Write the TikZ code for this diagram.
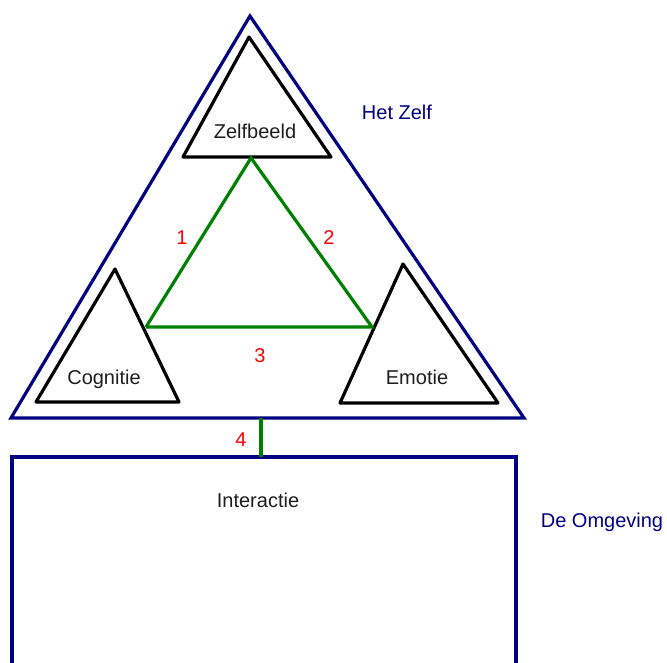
\documentclass[tikz,border=0pt]{standalone}
\usepackage{fontspec}
\setmainfont{Liberation Sans}
\definecolor{navyline}{RGB}{0,0,128}
\definecolor{greenline}{RGB}{0,128,0}
\definecolor{rednum}{RGB}{255,0,0}
\definecolor{textgrey}{RGB}{30,30,30}
\begin{document}
\begin{tikzpicture}[x=0.75pt,y=-0.75pt,
  outerline/.style={draw=navyline,line width=2.4pt,line join=miter},
  innertri/.style={draw=black,line width=2.4pt,line join=round,line cap=round},
  link/.style={draw=greenline,line width=2.4pt},
  lbl/.style={inner sep=0pt,anchor=base,text=textgrey,font=\fontsize{15}{18}\selectfont},
  blbl/.style={inner sep=0pt,anchor=base,text=navyline,font=\fontsize{15}{18}\selectfont},
  num/.style={inner sep=0pt,anchor=base,text=rednum,font=\fontsize{15}{18}\selectfont}]
\useasboundingbox (0,0) rectangle (667,663);
\clip (0,0) rectangle (667,663);
% outer triangle (Het Zelf)
\coordinate (zA) at (250,16);
\coordinate (zR) at (524,418);
\coordinate (zL) at (11,418);
\draw[outerline] (zA) -- (zR) -- (zL) -- cycle;
% environment box
\draw[outerline] (12,700) -- (12,457) -- (516,457) -- (516,700);
% inner triangles
\draw[innertri] (249,37) -- (331,157) -- (183,157) -- cycle;
\draw[innertri] (115,269) -- (179,402) -- (36,402) -- cycle;
\draw[innertri] (403,264) -- (498,403) -- (340,403) -- cycle;
% green links
\coordinate (gZ) at (251,158);
\coordinate (gC) at (146,327);
\coordinate (gE) at (372,327);
\coordinate (g4a) at (261,418);
\coordinate (g4b) at (261,457);
\draw[link] (gC) -- (gZ) -- (gE) -- (gC);
\draw[link] (g4a) -- (g4b);
% labels
\node[lbl] (zelfbeeld) at (255,139) {Zelfbeeld};
\node[lbl] (cognitie) at (104,384) {Cognitie};
\node[lbl] (emotie) at (417,384) {Emotie};
\node[lbl] (interactie) at (258,507) {Interactie};
\node[blbl] (hetzelf) at (397,120) {Het Zelf};
\node[blbl] (omgeving) at (602,527) {De Omgeving};
\node[num] (n1) at (182,244) {1};
\node[num] (n2) at (329,244) {2};
\node[num] (n3) at (260,362) {3};
\node[num] (n4) at (241,446) {4};
\end{tikzpicture}
\end{document}
